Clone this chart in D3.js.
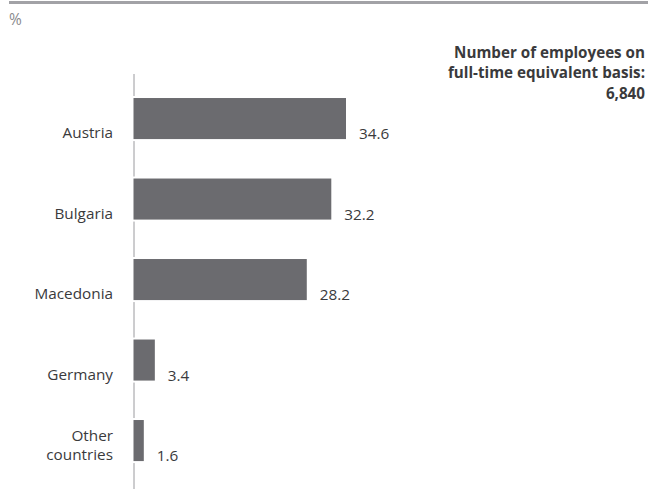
<!DOCTYPE html>
<html>
<head>
<meta charset="utf-8">
<script src="https://cdn.jsdelivr.net/npm/d3@7"></script>
<style>
  html, body { margin: 0; padding: 0; background: #fff; }
  svg { display: block; font-family: "Open Sans", "DejaVu Sans", sans-serif; }
</style>
</head>
<body>
<svg id="chart" width="648" height="490"></svg>
<script>
// Employees by country, share in %
const categories = ["Austria", "Bulgaria", "Macedonia", "Germany", "Other countries"];
const shares = [34.6, 32.2, 28.2, 3.4, 1.6];
const valueLabels = ["34.6", "32.2", "28.2", "3.4", "1.6"];
const titleLines = ["Number of employees on", "full-time equivalent basis:", "6,840"];
const unitLabel = "%";

const svg = d3.select("#chart");

// top rule
svg.append("rect")
  .attr("x", 9).attr("y", 1).attr("width", 639).attr("height", 3)
  .attr("fill", "#a2a2a6");

svg.append("text")
  .attr("x", 9).attr("y", 25)
  .attr("font-size", 15.5).attr("fill", "#8a8a8e")
  .text(unitLabel);

// headline, right aligned
const title = svg.append("text")
  .attr("text-anchor", "end")
  .attr("font-size", 15.2).attr("font-weight", "bold").attr("fill", "#3a3a3c");
titleLines.forEach((t, i) => {
  title.append("tspan").attr("x", 645).attr("y", 58 + i * 20.3).text(t);
});

const x = d3.scaleLinear().domain([0, 34.6]).range([134, 346]);
const y = d3.scaleBand().domain(categories).range([78.3, 480.8])
  .paddingInner(0.49).paddingOuter(0.245);

// vertical axis line
svg.append("line")
  .attr("x1", x(0)).attr("x2", x(0))
  .attr("y1", 74).attr("y2", 489)
  .attr("stroke", "#9a9a9e").attr("stroke-width", 1);

// bars, with a white halo that breaks the axis line
svg.append("g").selectAll("rect")
  .data(categories)
  .join("rect")
  .attr("x", x(0) - 0.5)
  .attr("y", d => y(d))
  .attr("width", (d, i) => x(shares[i]) - x(0) + 0.5)
  .attr("height", y.bandwidth())
  .attr("fill", "#6b6b6f")
  .attr("stroke", "#fff").attr("stroke-width", 4)
  .attr("paint-order", "stroke");

// value labels
svg.append("g").selectAll("text")
  .data(categories)
  .join("text")
  .attr("x", (d, i) => x(shares[i]) + 13)
  .attr("y", d => y(d) + y.bandwidth())
  .attr("font-size", 15.3).attr("fill", "#3a3a3c")
  .text((d, i) => valueLabels[i]);

// category labels
const catG = svg.append("g");
categories.forEach(c => {
  const t = catG.append("text")
    .attr("text-anchor", "end")
    .attr("font-size", 15.3).attr("fill", "#3a3a3c");
  const words = c === "Other countries" ? ["Other", "countries"] : [c];
  const base = y(c) + y.bandwidth() - 1;
  words.forEach((w, i) => {
    t.append("tspan").attr("x", 113)
      .attr("y", base - (words.length - 1 - i) * 19.5)
      .text(w);
  });
});
</script>
</body>
</html>
